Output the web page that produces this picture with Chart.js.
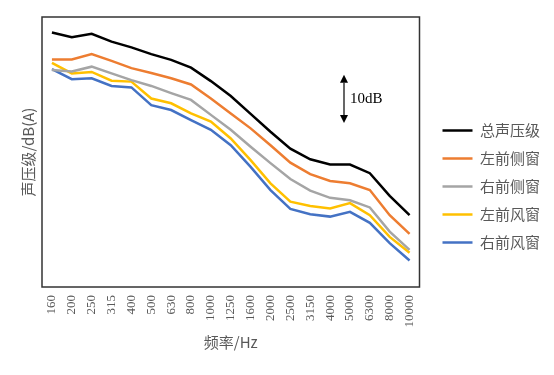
<!DOCTYPE html>
<html>
<head>
<meta charset="utf-8">
<script src="https://cdn.jsdelivr.net/npm/chart.js@4/dist/chart.umd.min.js"></script>
<style>
  html, body { margin: 0; padding: 0; background: #fff; }
  #wrap { width: 554px; height: 375px; }
</style>
</head>
<body>
<div id="wrap"><canvas id="chart"></canvas></div>
<script>
// 频率 (1/3 倍频程中心频率)
const freqs = ['160', '200', '250', '315', '400', '500', '630', '800', '1000', '1250',
  '1600', '2000', '2500', '3150', '4000', '5000', '6300', '8000', '10000'];

// 各测点声压级 dB(A)
const zongSheng = [82.8, 81.8, 82.5, 80.9, 79.7, 78.3, 77.1, 75.5, 72.7, 69.6,
  65.9, 62.2, 58.7, 56.5, 55.4, 55.4, 53.6, 48.9, 44.9];
const zuoCe = [77.2, 77.2, 78.3, 76.9, 75.4, 74.4, 73.3, 72.0, 69.1, 66.0,
  62.9, 59.4, 55.8, 53.4, 52.0, 51.5, 50.1, 44.9, 41.0];
const youCe = [75.0, 74.7, 75.7, 74.3, 72.9, 71.7, 70.2, 68.8, 65.7, 62.6,
  59.1, 55.7, 52.4, 50.0, 48.5, 48.0, 46.5, 41.5, 37.7];
const zuoFeng = [76.5, 74.3, 74.6, 72.8, 72.6, 69.1, 68.1, 66.0, 64.3, 60.8,
  56.3, 51.5, 47.7, 46.8, 46.3, 47.4, 44.9, 40.4, 37.1];
const youFeng = [75.2, 73.1, 73.3, 71.7, 71.4, 67.7, 66.7, 64.6, 62.6, 59.4,
  54.9, 50.1, 46.2, 45.1, 44.6, 45.6, 43.3, 39.1, 35.5];

const seriesNames = ['总声压级', '左前侧窗', '右前侧窗', '左前风窗', '右前风窗'];
const seriesData = [zongSheng, zuoCe, youCe, zuoFeng, youFeng];
const seriesColors = ['#000000', '#ED7D31', '#A5A5A5', '#FFC000', '#4472C4'];

// 10dB 标尺 (x 为类别序号, y 为 dB)
const scaleBarX = 14.7;
const scaleBarTop = 74;
const scaleBarBottom = 64;
const scaleBarLabel = '10dB';

const GRAY = '#595959';

// 绘图区外框
const frame = {
  id: 'frame',
  afterDraw(chart) {
    const { ctx, chartArea: a } = chart;
    ctx.save();
    ctx.strokeStyle = '#333';
    ctx.lineWidth = 1.5;
    ctx.strokeRect(a.left, a.top, a.right - a.left, a.bottom - a.top);
    ctx.restore();
  },
};

// 10dB 双箭头
const scaleBar = {
  id: 'scaleBar',
  afterDatasetsDraw(chart) {
    const { ctx, scales: { x, y } } = chart;
    const px = x.getPixelForValue(scaleBarX);
    const top = y.getPixelForValue(scaleBarTop);
    const bot = y.getPixelForValue(scaleBarBottom);
    const head = 8, half = 4;
    ctx.save();
    ctx.strokeStyle = '#000';
    ctx.fillStyle = '#000';
    ctx.lineWidth = 1.2;
    ctx.beginPath();
    ctx.moveTo(px, top + head);
    ctx.lineTo(px, bot - head);
    ctx.stroke();
    ctx.beginPath();
    ctx.moveTo(px, top);
    ctx.lineTo(px - half, top + head);
    ctx.lineTo(px + half, top + head);
    ctx.closePath();
    ctx.fill();
    ctx.beginPath();
    ctx.moveTo(px, bot);
    ctx.lineTo(px - half, bot - head);
    ctx.lineTo(px + half, bot - head);
    ctx.closePath();
    ctx.fill();
    ctx.font = '15px "Liberation Serif", serif';
    ctx.textBaseline = 'middle';
    ctx.textAlign = 'left';
    ctx.fillText(scaleBarLabel, px + 6, (top + bot) / 2);
    ctx.restore();
  },
};

const cjk = '"Noto Sans CJK SC", "Noto Sans", sans-serif';

new Chart(document.getElementById('chart'), {
  type: 'line',
  data: {
    labels: freqs,
    datasets: seriesNames.map((name, i) => ({
      label: name,
      data: seriesData[i],
      borderColor: seriesColors[i],
      backgroundColor: seriesColors[i],
      borderWidth: 2.5,
      pointRadius: 0,
      tension: 0,
      fill: false,
    })),
  },
  options: {
    responsive: true,
    maintainAspectRatio: false,
    animation: false,
    layout: { padding: { top: 17, left: 0, bottom: 19, right: 4 } },
    plugins: {
      tooltip: { enabled: false },
      legend: {
        position: 'right',
        maxWidth: 130,
        labels: {
          usePointStyle: true,
          pointStyle: 'line',
          pointStyleWidth: 30,
          padding: 13,
          color: GRAY,
          font: { family: cjk, size: 15 },
        },
      },
    },
    scales: {
      x: {
        offset: true,
        grid: { display: false },
        border: { display: false },
        ticks: {
          autoSkip: false,
          minRotation: 90,
          maxRotation: 90,
          padding: 0,
          color: GRAY,
          font: { family: '"Liberation Serif", serif', size: 13 },
        },
        title: {
          display: true,
          text: '频率/Hz',
          color: GRAY,
          font: { family: cjk, size: 15 },
          padding: { top: 0, bottom: 5 },
        },
        afterFit: (s) => { s.height = 69; },
      },
      y: {
        min: 30,
        max: 86,
        grid: { display: false },
        border: { display: false },
        ticks: { display: false },
        title: {
          display: true,
          text: '声压级/dB(A)',
          color: GRAY,
          font: { family: cjk, size: 15 },
          padding: { top: 19, bottom: 0 },
        },
        afterFit: (s) => { s.width = 42; },
      },
      // 绘图区与图例之间的空隙
      gap: {
        position: 'right',
        display: true,
        grid: { display: false },
        border: { display: false },
        ticks: { display: false },
        afterFit: (s) => { s.width = 10; },
      },
    },
  },
  plugins: [frame, scaleBar],
});
</script>
</body>
</html>
